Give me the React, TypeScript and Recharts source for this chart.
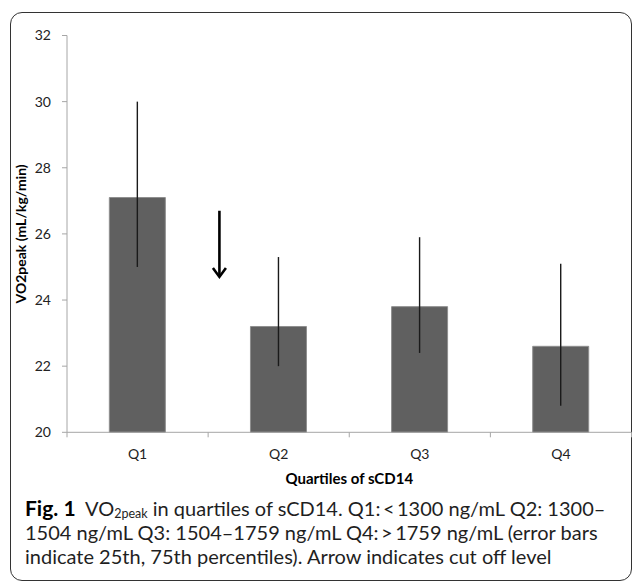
import React from 'react';
import { BarChart, Bar, XAxis, YAxis, ErrorBar, ReferenceLine } from 'recharts';

const categories = ['Q1', 'Q2', 'Q3', 'Q4'];
const vo2peak = [27.1, 23.2, 23.8, 22.6];
const p25 = [25.0, 22.0, 22.4, 20.8];
const p75 = [30.0, 25.3, 25.9, 25.1];
const yTicks = [20, 22, 24, 26, 28, 30, 32];
// x scale: each category occupies one unit; boundaries at integers, labels at centers
const xTicks = [0, 0.5, 1, 1.5, 2, 2.5, 3, 3.5, 4];
// arrow (cut off level) in data coordinates
const arrowX = 1.08;
const arrowTop = 26.7;
const arrowBottom = 24.7;

const data = categories.map((q, i) => ({
  q,
  x: i + 0.5,
  v: vo2peak[i],
  err: [vo2peak[i] - p25[i], p75[i] - vo2peak[i]],
}));

const CHART_FONT = 'Lato, "Open Sans", sans-serif';
const AXIS_COLOR = '#a6a6a6';

const BottomTick = (props: any) => {
  const { x, y, payload } = props;
  const v = payload?.value;
  if (v == null) return null;
  if (Number.isInteger(v)) {
    return <line x1={x} y1={y} x2={x} y2={y + 5} stroke={AXIS_COLOR} strokeWidth={1} />;
  }
  const label = categories[Math.floor(v)];
  return (
    <text x={x} y={y + 27} textAnchor="middle" fontFamily={CHART_FONT} fontSize={14} fill="#222">
      {label}
    </text>
  );
};

const ArrowShape = (props: any) => {
  const { x1, y1, x2, y2 } = props;
  if ([x1, y1, x2, y2].some((v) => v == null || Number.isNaN(v))) return null;
  const head = 6.5;
  return (
    <g>
      <line x1={x1} y1={y1} x2={x2} y2={y2 - 1} stroke="#000" strokeWidth={2.6} />
      <polyline
        points={`${x2 - head},${y2 - 9} ${x2},${y2} ${x2 + head},${y2 - 9}`}
        fill="none"
        stroke="#000"
        strokeWidth={2.6}
        strokeLinejoin="miter"
      />
    </g>
  );
};

const YLabel = (props: any) => {
  const vb = props.viewBox || {};
  const cx = vb.x + 11;
  const cy = vb.y + vb.height / 2;
  return (
    <text
      x={cx}
      y={cy}
      transform={`rotate(-90, ${cx}, ${cy})`}
      textAnchor="middle"
      dominantBaseline="central"
      fontFamily={CHART_FONT}
      fontWeight={700}
      fontSize={14}
      fill="#000"
    >
      VO2peak (mL/kg/min)
    </text>
  );
};

const XLabel = (props: any) => {
  const vb = props.viewBox || {};
  return (
    <text
      x={vb.x + vb.width / 2}
      y={vb.y + 52}
      textAnchor="middle"
      fontFamily={CHART_FONT}
      fontWeight={700}
      fontSize={15}
      fill="#000"
    >
      Quartiles of sCD14
    </text>
  );
};

export default function App() {
  return (
    <div style={{ position: 'absolute', left: 0, top: 0, width: 632, height: 582, background: '#fff', overflow: 'hidden' }}>
      <div
        style={{
          position: 'absolute',
          left: 10,
          top: 12,
          width: 620,
          height: 567,
          border: '1px solid #333',
          borderRadius: 12,
        }}
      />
      <div style={{ position: 'absolute', left: 0, top: 0 }}>
        <BarChart
          width={632}
          height={500}
          data={data}
          margin={{ top: 35.5, right: 0.5, bottom: 37.7, left: 10 }}
          barCategoryGap="30%"
        >
          <XAxis
            dataKey="x"
            type="number"
            domain={[0, 4]}
            allowDataOverflow
            ticks={xTicks}
            interval={0}
            tickSize={0}
            tickMargin={0}
            tickLine={false}
            axisLine={{ stroke: AXIS_COLOR }}
            tick={<BottomTick />}
            height={30}
            label={<XLabel />}
          />
          <YAxis
            domain={[20, 32]}
            ticks={yTicks}
            interval={0}
            width={57}
            tickSize={5}
            tickMargin={11}
            tickLine={{ stroke: AXIS_COLOR }}
            axisLine={{ stroke: AXIS_COLOR }}
            tick={{ fontFamily: CHART_FONT, fontSize: 14, fill: '#222' }}
            label={<YLabel />}
          />
          <Bar
            dataKey="v"
            fill="#606060"
            stroke="#8f8f8f"
            strokeWidth={1}
            isAnimationActive={false}
          >
            <ErrorBar dataKey="err" width={0} stroke="#1a1a1a" strokeWidth={1.4} direction="y" />
          </Bar>
          <ReferenceLine
            segment={[
              { x: arrowX, y: arrowTop },
              { x: arrowX, y: arrowBottom },
            ]}
            shape={<ArrowShape />}
            ifOverflow="visible"
          />
        </BarChart>
      </div>
      <div
        style={{
          position: 'absolute',
          left: 25,
          top: 496,
          width: 605,
          fontFamily: 'Lato, "Open Sans", sans-serif',
          fontSize: 20,
          lineHeight: '24px',
          color: '#1f1f1f',
          whiteSpace: 'nowrap',
        }}
      >
        <div>
          <span style={{ fontWeight: 700, fontSize: 21, color: '#000' }}>Fig. 1</span>
          {'\u00a0\u00a0'}VO<span style={{ fontSize: 12.5, position: 'relative', top: 2, lineHeight: 0 }}>2peak</span> in quartiles of sCD14. Q1:{'\u2009'}&lt;{'\u2009'}1300 ng/mL Q2: 1300–
        </div>
        <div>1504 ng/mL Q3: 1504–1759 ng/mL Q4:{'\u2009'}&gt;{'\u2009'}1759 ng/mL (error bars</div>
        <div>indicate 25th, 75th percentiles). Arrow indicates cut off level</div>
      </div>
    </div>
  );
}
